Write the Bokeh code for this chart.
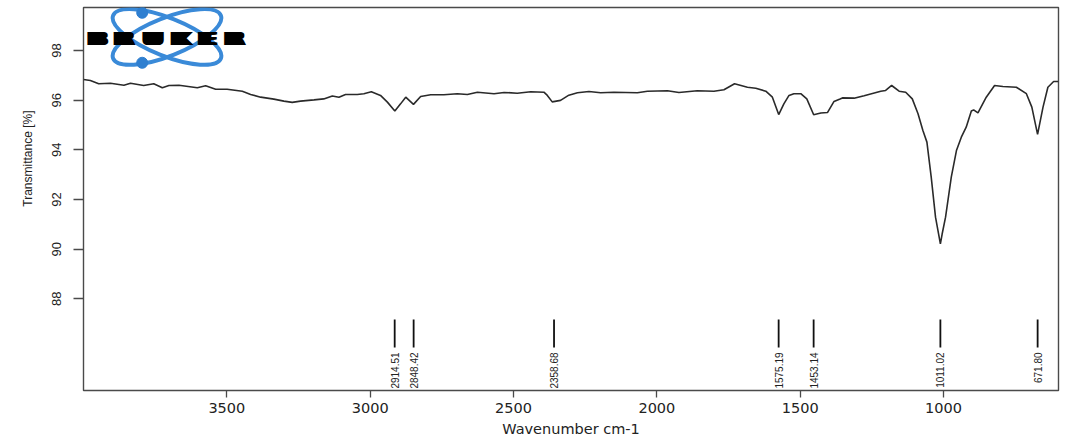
from math import pi
from bokeh.plotting import figure
from bokeh.models import Range1d, FixedTicker, Title
from bokeh.core.properties import value
from bokeh.embed import file_html
from bokeh.resources import INLINE

# ---------------- data ----------------
wavenumber = [4000, 3976, 3947, 3906, 3859, 3836, 3790, 3755, 3725, 3702, 3667, 3603,
              3574, 3539, 3499, 3446, 3417, 3382, 3336, 3301, 3272, 3243, 3196, 3162,
              3132, 3109, 3086, 3045, 3022, 2996, 2964, 2940, 2914, 2894, 2876, 2849,
              2824, 2789, 2743, 2696, 2661, 2626, 2568, 2533, 2487, 2440, 2394, 2382,
              2365, 2336, 2307, 2277, 2237, 2196, 2150, 2068, 2033, 1963, 1923, 1859,
              1801, 1766, 1729, 1684, 1655, 1620, 1597, 1575, 1557, 1539, 1522, 1498,
              1477, 1453, 1428, 1405, 1382, 1361, 1353, 1312, 1277, 1219, 1202, 1181,
              1155, 1132, 1109, 1089, 1072, 1058, 1043, 1028, 1017, 1011, 1005, 993,
              973, 955, 938, 921, 903, 895, 880, 851, 822, 793, 746, 711, 692, 672,
              653, 636, 616, 599]
transmittance = [96.83, 96.79, 96.66, 96.68, 96.60, 96.68, 96.59, 96.66, 96.50, 96.59, 96.60, 96.50,
                 96.58, 96.44, 96.44, 96.36, 96.23, 96.12, 96.04, 95.96, 95.91, 95.96, 96.01, 96.05,
                 96.17, 96.12, 96.23, 96.23, 96.26, 96.34, 96.19, 95.92, 95.56, 95.85, 96.12, 95.83,
                 96.15, 96.22, 96.22, 96.26, 96.23, 96.32, 96.26, 96.31, 96.28, 96.34, 96.32, 96.19,
                 95.93, 95.99, 96.20, 96.30, 96.35, 96.30, 96.32, 96.30, 96.36, 96.38, 96.31, 96.38,
                 96.36, 96.42, 96.66, 96.52, 96.48, 96.36, 96.12, 95.42, 95.85, 96.19, 96.26, 96.26,
                 96.05, 95.41, 95.48, 95.50, 95.95, 96.05, 96.09, 96.08, 96.18, 96.36, 96.39, 96.59,
                 96.36, 96.32, 96.05, 95.45, 94.78, 94.31, 92.90, 91.29, 90.60, 90.21, 90.60, 91.29,
                 92.90, 93.97, 94.51, 94.91, 95.56, 95.61, 95.49, 96.12, 96.59, 96.55, 96.52, 96.26,
                 95.72, 94.62, 95.72, 96.52, 96.75, 96.75]

peak_positions = [2914.51, 2848.42, 2358.68, 1575.19, 1453.14, 1011.02, 671.80]
peak_labels = ["2914.51", "2848.42", "2358.68", "1575.19", "1453.14", "1011.02", "671.80"]

x_ticks = [3500, 3000, 2500, 2000, 1500, 1000]
y_ticks = [88, 90, 92, 94, 96, 98]

x_title = "Wavenumber cm-1"
y_title = "Transmittance [%]"

# ---------------- figure ----------------
X_LEFT, X_RIGHT = 4000, 599
Y_BOTTOM, Y_TOP = 84.31, 99.73

p = figure(width=1070, height=444, output_backend="svg", toolbar_location=None,
           x_range=Range1d(X_LEFT, X_RIGHT), y_range=Range1d(Y_BOTTOM, Y_TOP),
           min_border_left=83, min_border_right=12, min_border_top=7, min_border_bottom=54)

p.background_fill_color = "white"
p.border_fill_color = "white"
p.outline_line_color = "#4a4a4a"
p.outline_line_width = 1.4
p.xgrid.visible = False
p.ygrid.visible = False

FONT = "Liberation Sans"
WIDE = "DejaVu Sans"
for ax in (p.xaxis[0], p.yaxis[0]):
    ax.axis_line_color = None
    ax.major_tick_line_color = "#4a4a4a"
    ax.major_tick_line_width = 1.3
    ax.minor_tick_line_color = None
    ax.major_tick_in = 0
    ax.major_label_text_color = "#222222"

p.xaxis.ticker = FixedTicker(ticks=x_ticks)
p.xaxis.major_tick_out = 7
p.xaxis.major_label_standoff = 5
p.xaxis.major_label_text_font = WIDE
p.xaxis.major_label_text_font_size = "14.5px"
p.xaxis.axis_label = x_title
p.xaxis.axis_label_standoff = 5
p.xaxis.axis_label_text_font = WIDE
p.xaxis.axis_label_text_font_size = "14.5px"
p.xaxis.axis_label_text_font_style = "normal"
p.xaxis.axis_label_text_color = "#222222"

p.yaxis.ticker = FixedTicker(ticks=y_ticks)
p.yaxis.major_tick_out = 10
p.yaxis.major_label_standoff = 12
p.yaxis.major_label_text_font = FONT
p.yaxis.major_label_text_font_size = "13px"
p.yaxis.major_label_orientation = "vertical"

# y-axis title, placed towards the upper part like the reference
p.add_layout(Title(text=y_title, align="right", offset=103, text_font=FONT,
                   text_font_size="12px", text_font_style="normal",
                   text_color="#222222", standoff=30), "left")

# pixel -> data helpers (page pixels) for decorations
PX_PER_X = 0.28667
PX_PER_Y = 24.84


def px2x(px):
    return X_LEFT - (px - 83) / PX_PER_X


def py2y(py):
    return 98 - (py - 50) / PX_PER_Y


# spectrum
p.line(wavenumber, transmittance, line_color="#2a2a2a", line_width=1.6)

# peak markers
n = len(peak_positions)
p.segment(x0=peak_positions, y0=[py2y(319)] * n, x1=peak_positions, y1=[py2y(347)] * n,
          line_color="#111111", line_width=1.8)
p.text(x=peak_positions, y=[py2y(352)] * n, text=peak_labels, angle=pi / 2,
       text_align="right", text_baseline="middle", text_font=value(FONT),
       text_font_size="10px", text_color="#222222")

# Bruker logo (decoration)
cx, cy = px2x(166.5), py2y(36.5)
p.ellipse(x=[cx, cx], y=[cy, cy], width=[116, 116], height=[38, 38], angle=[0.38, -0.38],
          width_units="screen", height_units="screen", fill_color=None,
          line_color="#3a8ad8", line_width=4)
p.scatter(x=[px2x(141.7), px2x(141.7)], y=[py2y(12.3), py2y(62.3)], size=11,
          fill_color="#2f7fd0", line_color="#2f7fd0")
letters = ["B", "R", "U", "K", "E", "R"]
letter_px = [97, 123.5, 152.5, 180.5, 207, 234]
for off in range(0, 11):
    p.text(x=[px2x(v) for v in letter_px], y=[py2y(38)] * 6, text=letters,
           x_offset=off - 5, text_align="center", text_baseline="middle",
           text_font=value("DejaVu Sans"), text_font_style="bold",
           text_font_size="18px", text_color="black")

open("out.html", "w").write(file_html(p, INLINE))
